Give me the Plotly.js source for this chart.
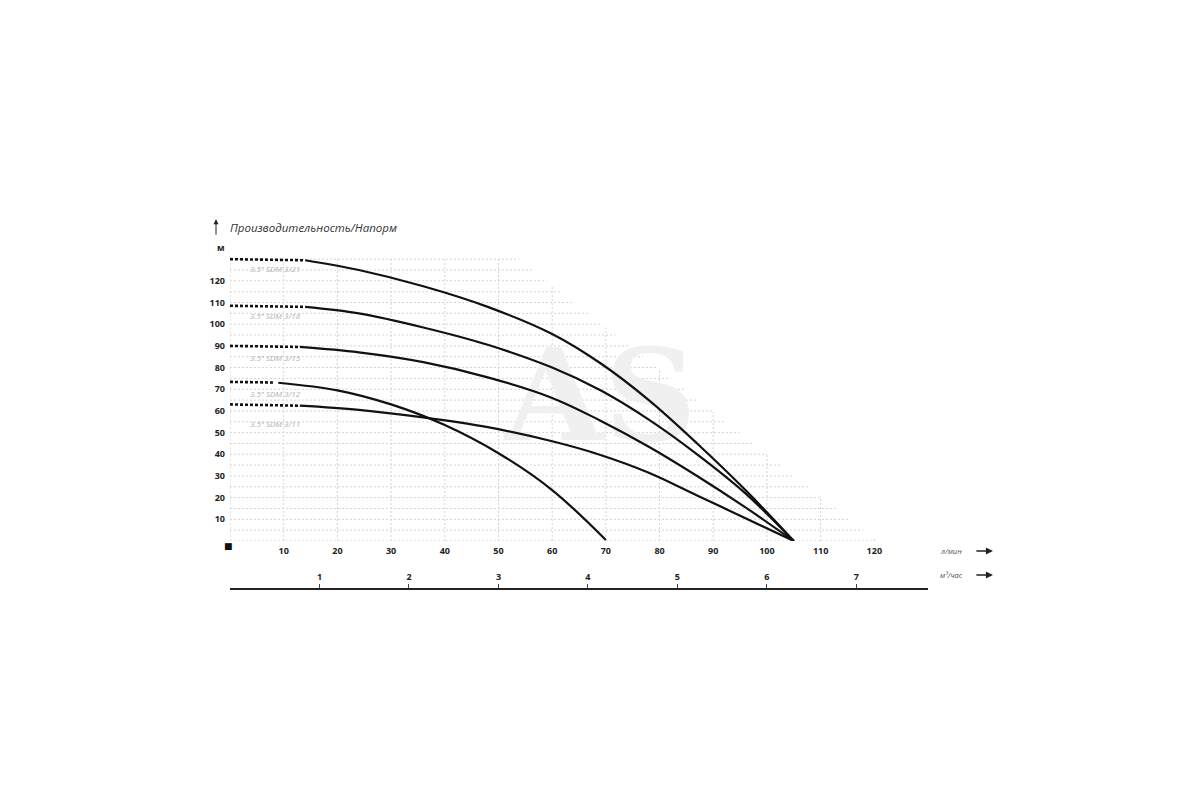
<!DOCTYPE html>
<html>
<head>
<meta charset="utf-8">
<script src="https://cdn.plot.ly/plotly-3.0.1.min.js"></script>
<style>html,body{margin:0;padding:0;background:#fff;}#chart{width:1200px;height:800px;}</style>
</head>
<body>
<div id="chart"></div>
<script>
// ---- data ----
const curveNames = ['3.5" SDM 3/21', '3.5" SDM 3/18', '3.5" SDM 3/15', '3.5" SDM 3/12', '3.5" SDM 3/11'];

const flow321 = [14, 24, 36, 48, 60, 69, 78, 87, 96, 105];
const head321 = [129.5, 125, 117.5, 108, 95.5, 82, 65, 45, 23.5, 0];
const flow318 = [14, 24, 36, 48, 60, 69, 78, 87, 96, 105];
const head318 = [108, 105, 98.5, 90.5, 80, 69.5, 56, 40, 22, 0];
const flow315 = [13, 24, 36, 48, 60, 69, 78, 87, 96, 105];
const head315 = [89.5, 87, 82.5, 75.5, 66, 55.5, 43.5, 30, 15.5, 0];
const flow312 = [9, 20, 30, 40, 50, 60, 70];
const head312 = [73, 69.5, 63, 53.5, 40.5, 23.5, 0.5];
const flow311 = [13, 24, 36, 48, 60, 69, 78, 87, 96, 105];
const head311 = [62.4, 60.5, 57, 52.5, 46, 39.7, 31.5, 21, 10.5, 0];

// dotted (extrapolated) starts: [flow start, flow end], [head start, head end]
const dotFlow321 = [0, 14], dotHead321 = [130, 129.5];
const dotFlow318 = [0, 14], dotHead318 = [108.5, 108];
const dotFlow315 = [0, 13], dotHead315 = [90, 89.5];
const dotFlow312 = [0, 8], dotHead312 = [73.4, 73.1];
const dotFlow311 = [0, 13], dotHead311 = [63, 62.4];

const xTicks = [10, 20, 30, 40, 50, 60, 70, 80, 90, 100, 110, 120];
const yTicks = [10, 20, 30, 40, 50, 60, 70, 80, 90, 100, 110, 120];
const m3Ticks = [1, 2, 3, 4, 5, 6, 7];

// ---- styles / layout ----
const X_MAX = 130, Y_MAX = 131;
const LPM_TO_M3H = 0.06;
const ink = '#111';

const traces = [];
// watermark (behind the curves)
traces.push({
  x: [69], y: [61.5], mode: 'text', text: ['AS'],
  textfont: {family: 'DejaVu Serif', size: 128, color: '#f0f0f0', weight: 700},
  hoverinfo: 'skip', showlegend: false, cliponaxis: false
});

const solids = [[flow321, head321], [flow318, head318], [flow315, head315], [flow312, head312], [flow311, head311]];
const dots = [[dotFlow321, dotHead321], [dotFlow318, dotHead318], [dotFlow315, dotHead315], [dotFlow312, dotHead312], [dotFlow311, dotHead311]];

dots.forEach((d, i) => traces.push({
  x: d[0], y: d[1], mode: 'lines', name: curveNames[i] + ' (dot)',
  line: {color: ink, width: 2.6, dash: '3px,2px'}, showlegend: false, hoverinfo: 'skip'
}));
solids.forEach((s, i) => traces.push({
  x: s[0], y: s[1], mode: 'lines', name: curveNames[i],
  line: {color: ink, width: 2.2, shape: 'spline', smoothing: 1.0}, showlegend: false
}));
// carrier trace for the m3/h axis
traces.push({x: m3Ticks, y: m3Ticks.map(() => 0), xaxis: 'x2', yaxis: 'y', mode: 'none', hoverinfo: 'skip', showlegend: false});

// staircase dotted grid (bounded by a diagonal, like the reference)
const gridEndX = y => Math.min(X_MAX, (235 - y) / 1.95);
const gridTopY = x => Math.min(Y_MAX, 235 - 1.95 * x);
const shapes = [];
const gridLine = {color: '#d4d4d4', width: 1, dash: '2px,2px'};
for (let y = 0; y <= 130; y += 5) {
  shapes.push({type: 'line', xref: 'x', yref: 'y', x0: 0, x1: gridEndX(y), y0: y, y1: y, line: gridLine, layer: 'below'});
}
for (let x = 0; x <= 120; x += 10) {
  shapes.push({type: 'line', xref: 'x', yref: 'y', x0: x, x1: x, y0: 0, y1: gridTopY(x), line: gridLine, layer: 'below'});
}

const labelPos = [[3.4, 125.6], [3.4, 104], [3.4, 84.8], [3.4, 68.2], [3.4, 54]];
const annotations = labelPos.map((p, i) => ({
  x: p[0], y: p[1], xref: 'x', yref: 'y', text: curveNames[i], showarrow: false,
  xanchor: 'left', yanchor: 'middle',
  font: {family: 'Open Sans', size: 8, color: '#b0b0b0', style: 'italic'}
}));

annotations.push(
  {xref: 'paper', yref: 'paper', x: -0.003, y: 1.09, text: 'Производительность/Напорм', showarrow: false,
   xanchor: 'left', yanchor: 'middle',
   font: {family: 'Open Sans', size: 11.5, color: '#333', style: 'italic'}},
  {xref: 'paper', yref: 'paper', x: 0, y: 1.09, xshift: -14, yshift: 8, ax: 0, ay: 17, text: '', showarrow: true,
   arrowhead: 2, arrowsize: 1, arrowwidth: 1, arrowcolor: '#222'},
  {xref: 'paper', yref: 'paper', x: 0, y: 1.03, xshift: -15, yanchor: 'middle', text: 'м', showarrow: false,
   font: {family: 'Open Sans', size: 9, color: '#222', weight: 700}},
  {xref: 'x', yref: 'y', x: 0, y: 0, xshift: -2, yshift: -5, text: '■', showarrow: false,
   font: {family: 'DejaVu Sans', size: 9, color: '#111'}},
  {xref: 'paper', yref: 'y', x: 1.0143, y: 0, yshift: -10, yanchor: 'middle', text: 'л/мин', showarrow: false, xanchor: 'left',
   font: {family: 'Open Sans', size: 7.5, color: '#555', style: 'italic'}},
  {xref: 'paper', yref: 'y', x: 1.093, y: 0, yshift: -10, ax: -18, ay: 0, text: '', showarrow: true,
   arrowhead: 2, arrowsize: 1, arrowwidth: 1.4, arrowcolor: '#222'},
  {xref: 'paper', yref: 'paper', x: 1.0143, y: 0, yshift: 13, yanchor: 'middle', text: 'м³/час', showarrow: false, xanchor: 'left',
   font: {family: 'Open Sans', size: 7.5, color: '#555', style: 'italic'}},
  {xref: 'paper', yref: 'paper', x: 1.093, y: 0, yshift: 13, ax: -18, ay: 0, text: '', showarrow: true,
   arrowhead: 2, arrowsize: 1, arrowwidth: 1.4, arrowcolor: '#222'}
);

const tickFont = {family: 'Open Sans', size: 9, color: '#222', weight: 700};

const layout = {
  width: 1200, height: 800,
  margin: {l: 230, r: 272, t: 257, b: 212},
  paper_bgcolor: '#fff', plot_bgcolor: 'rgba(0,0,0,0)',
  showlegend: false,
  xaxis: {range: [0, X_MAX], anchor: 'y', showgrid: false, zeroline: false, showline: false,
          tickmode: 'array', tickvals: xTicks, ticktext: xTicks.map(String), ticks: '', tickfont: tickFont,
          ticklabelstandoff: 3},
  xaxis2: {range: [0, X_MAX * LPM_TO_M3H], overlaying: 'x', anchor: 'free', position: 0, side: 'top',
           showgrid: false, zeroline: false, showline: true, linecolor: '#222', linewidth: 1.5,
           tickmode: 'array', tickvals: m3Ticks, ticktext: m3Ticks.map(String), ticks: 'outside', ticklen: 4,
           tickcolor: '#444', tickwidth: 1, tickfont: tickFont},
  yaxis: {range: [0, Y_MAX], domain: [47 / 331, 1], showgrid: false, zeroline: false, showline: false,
          tickmode: 'array', tickvals: yTicks, ticktext: yTicks.map(String), ticks: '', tickfont: tickFont,
          ticklabelstandoff: 4},
  shapes: shapes,
  annotations: annotations
};

Plotly.newPlot('chart', traces, layout, {staticPlot: true, displayModeBar: false});
</script>
</body>
</html>
